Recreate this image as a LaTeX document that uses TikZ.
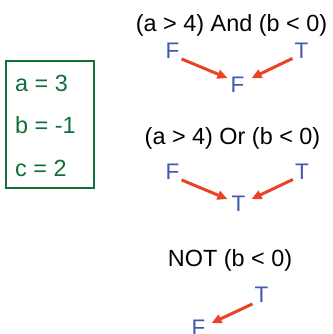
\documentclass[tikz,border=0pt]{standalone}
\usepackage{fontspec}
\setmainfont{Liberation Sans}
\usetikzlibrary{arrows.meta}
\definecolor{boxgreen}{RGB}{18,110,58}
\definecolor{valblue}{RGB}{68,88,172}
\definecolor{arrred}{RGB}{234,66,38}
\tikzset{
  txt/.style={inner sep=0pt, font=\fontsize{23.4}{28}\selectfont, anchor=base},
  gtxt/.style={txt, text=boxgreen, anchor=base west},
  val/.style={inner sep=0pt, font=\fontsize{22.5}{26}\selectfont, text=valblue},
  arr/.style={draw=arrred, line width=3pt, -{Triangle[length=10pt,width=9pt]}},
}
\begin{document}
\begin{tikzpicture}[x=1pt,y=-1pt]
\useasboundingbox (0,0) rectangle (332,334);
% variable box
\node[draw=boxgreen, line width=2pt, minimum width=88pt, minimum height=127pt, anchor=north west, inner sep=0pt] (box) at (5,60) {};
\node[gtxt] (va) at (15,92) {a = 3};
\node[gtxt] (vb) at (15,133) {b = -1};
\node[gtxt] (vc) at (15,176) {c = 2};
% AND
\node[txt] (t1) at (231.5,32) {(a > 4) And (b < 0)};
\node[val] (f1) at (172.5,50.5) {F};
\node[val] (u1) at (301.5,50.5) {T};
\node[val] (r1) at (237.5,85) {F};
\draw[arr] ([shift={(2,0.5)}]f1.south east) -- ([shift={(-3,1)}]r1.north west);
\draw[arr] ([shift={(-2,0)}]u1.south west) -- ([shift={(7,1)}]r1.north east);
% OR
\node[txt] (t2) at (232.5,144) {(a > 4) Or (b < 0)};
\node[val] (f2) at (172.5,171.5) {F};
\node[val] (u2) at (302,171.5) {T};
\node[val] (r2) at (238.5,203.5) {T};
\draw[arr] ([shift={(2,0.5)}]f2.south east) -- ([shift={(-4,3.5)}]r2.north west);
\draw[arr] ([shift={(-2,0)}]u2.south west) -- ([shift={(6,3.5)}]r2.north east);
% NOT
\node[txt] (t3) at (230,266) {NOT (b < 0)};
\node[val] (u3) at (261.5,295) {T};
\node[val] (r3) at (198.5,328) {F};
\draw[arr] ([shift={(-2,1)}]u3.south west) -- ([shift={(6,3)}]r3.north east);
\end{tikzpicture}
\end{document}
